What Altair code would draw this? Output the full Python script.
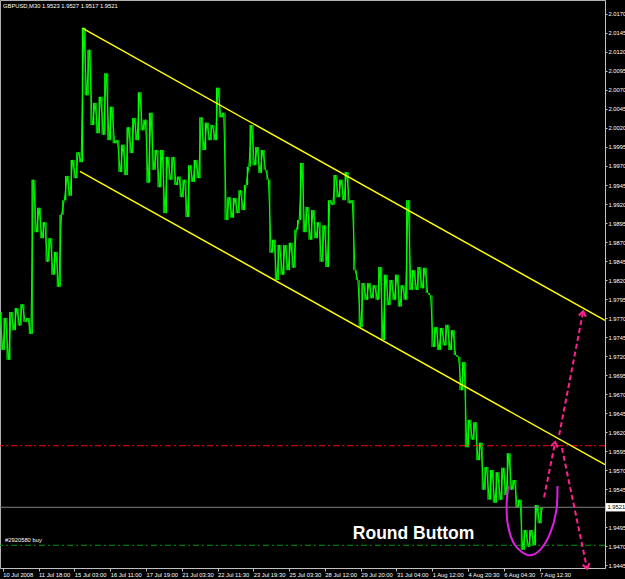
import json
import altair as alt
import pandas as pd

# ---------------- data ----------------
TITLE = "GBPUSD,M30  1.9523 1.9527 1.9517 1.9521"

x_tick_bars = [0, 64, 128, 192, 256, 320, 384, 448, 512, 576, 640, 704, 768, 832, 896, 960]
x_tick_labels = ["10 Jul 2008", "11 Jul 18:00", "15 Jul 03:00", "16 Jul 11:00",
                 "17 Jul 19:00", "21 Jul 03:30", "22 Jul 11:30", "23 Jul 19:30",
                 "25 Jul 03:30", "28 Jul 12:00", "29 Jul 20:00", "31 Jul 04:00",
                 "1 Aug 12:00", "4 Aug 20:30", "6 Aug 04:30", "7 Aug 12:30"]

y_tick_values = [1.9445, 1.9470, 1.9495, 1.9545, 1.9570, 1.9595, 1.9620, 1.9645,
                 1.9670, 1.9695, 1.9720, 1.9745, 1.9770, 1.9795, 1.9820, 1.9845,
                 1.9870, 1.9895, 1.9920, 1.9945, 1.9970, 1.9995, 2.0020, 2.0045,
                 2.0070, 2.0095, 2.0120, 2.0145, 2.0170]

first_bar = -5
bar_step = 5
prices = [
    1.9778, 1.9728, 1.9770, 1.9715, 1.9778, 1.9754, 1.9783, 1.9760, 1.9788, 1.9765,
    1.9770, 1.9749, 1.9952, 1.9883, 1.9915, 1.9875, 1.9896, 1.9844, 1.9875, 1.9827,
    1.9857, 1.9811, 1.9906, 1.9925, 1.9957, 1.9931, 1.9978, 1.9954, 1.9988, 1.9975,
    2.0152, 2.0063, 2.0123, 2.0024, 2.0053, 2.0013, 2.0061, 2.0011, 2.0092, 2.0004,
    2.0048, 2.0000, 2.0004, 1.9962, 1.9998, 1.9958, 2.0021, 1.9987, 2.0033, 2.0004,
    2.0067, 2.0017, 2.0031, 1.9948, 2.0040, 1.9965, 1.9991, 1.9942, 1.9991, 1.9908,
    1.9982, 1.9952, 1.9982, 1.9945, 1.9956, 1.9929, 1.9952, 1.9903, 1.9971, 1.9949,
    1.9978, 1.9954, 2.0034, 1.9991, 2.0027, 2.0004, 2.0024, 2.0004, 2.0073, 2.0034,
    2.0040, 1.9899, 1.9929, 1.9902, 1.9928, 1.9908, 1.9938, 1.9912, 1.9945, 1.9969,
    2.0024, 1.9971, 1.9995, 1.9961, 1.9991, 1.9965, 1.9952, 1.9856, 1.9873, 1.9820,
    1.9866, 1.9827, 1.9866, 1.9833, 1.9869, 1.9836, 1.9886, 1.9899, 1.9974, 1.9883,
    1.9916, 1.9873, 1.9912, 1.9875, 1.9896, 1.9844, 1.9892, 1.9837, 1.9925, 1.9919,
    1.9958, 1.9929, 1.9952, 1.9925, 1.9962, 1.9921, 1.9925, 1.9833, 1.9820, 1.9758,
    1.9816, 1.9794, 1.9816, 1.9796, 1.9813, 1.9794, 1.9837, 1.9741, 1.9827, 1.9787,
    1.9820, 1.9794, 1.9827, 1.9785, 1.9813, 1.9794, 1.9925, 1.9807, 1.9833, 1.9807,
    1.9837, 1.9809, 1.9836, 1.9803, 1.9800, 1.9732, 1.9758, 1.9728, 1.9757, 1.9734,
    1.9761, 1.9728, 1.9754, 1.9721, 1.9719, 1.9675, 1.9712, 1.9600, 1.9636, 1.9610,
    1.9633, 1.9583, 1.9606, 1.9544, 1.9574, 1.9531, 1.9570, 1.9527, 1.9567, 1.9531,
    1.9573, 1.9537, 1.9592, 1.9544, 1.9557, 1.9521, 1.9531, 1.9465, 1.9491, 1.9469,
    1.9491, 1.9471, 1.9524, 1.9500, 1.9521,
]

# channel lines: [bar_start, price_start, bar_end, price_end]
channel_upper = [143, 2.0151, 1077, 1.9767]
channel_lower = [138, 1.9963, 1077, 1.9577]

# horizontal levels
level_red = 1.9602
level_current = 1.9521
level_buy = 1.9471
buy_label = "#2920580 buy"

# dashed arrows: start bar, start price, end bar, end price, head angle
arrow_x1 = [968, 995, 1000]
arrow_y1 = [1.9534, 1.9616, 1.9599]
arrow_x2 = [988, 1038, 1045]
arrow_y2 = [1.9607, 1.9779, 1.9440]
arrow_angle = [11, 11, 168]

# hand-drawn "round bottom" curve
curve_bars = [904, 901, 904, 916, 940, 961, 979, 990, 992]
curve_prices = [1.9549, 1.9522, 1.9495, 1.9471, 1.9458, 1.9465, 1.9487, 1.9517, 1.9549]

note_text = "Round Buttom"
note_bar = 626
note_price = 1.9486

# ---------------- chart ----------------
XDOM = [-5, 1077]
YDOM = [1.94411, 2.01884]
FONT = "Liberation Sans"
xs = alt.Scale(domain=XDOM, nice=False, zero=False)
ys = alt.Scale(domain=YDOM, nice=False, zero=False)


def X(f, axis=None):
    return alt.X(f, type="quantitative", scale=xs, axis=axis, title=None)


def Y(f, axis=None):
    return alt.Y(f, type="quantitative", scale=ys, axis=axis, title=None)


bars = [first_bar + bar_step * i for i in range(len(prices))]
seg_df = pd.DataFrame({
    "bar": [b + bar_step / 2 for b in bars[:-1]],
    "p1": prices[:-1],
    "p2": prices[1:],
    "up": [b > a for a, b in zip(prices[:-1], prices[1:])],
})
line_df = pd.DataFrame({"bar": bars, "price": prices})

label_expr = json.dumps(x_tick_labels) + "[round(datum.value/64)]"

x_axis = alt.Axis(values=x_tick_bars, labelExpr=label_expr, orient="bottom",
                  labelAlign="left", labelBaseline="top", labelPadding=0,
                  tickSize=3, grid=False, labelOverlap=False, labelFlush=False,
                  title=None)
y_axis = alt.Axis(values=y_tick_values, format=".4f", orient="right",
                  labelAlign="left", labelBaseline="middle", labelPadding=1,
                  tickSize=2, grid=False, labelOverlap=False, labelBound=False,
                  title=None)

price_bars = alt.Chart(seg_df).mark_rule(strokeWidth=1.4).encode(
    x=X("bar", x_axis), y=Y("p1", y_axis), y2=alt.Y2("p2"),
    color=alt.Color("up:N", scale=alt.Scale(domain=[True, False],
                                            range=["#00FF00", "#00B400"]), legend=None))
price_line = alt.Chart(line_df).mark_line(color="#00FF00", strokeWidth=1).encode(
    x=X("bar"), y=Y("price"))

red_line = alt.Chart(pd.DataFrame({"p": [level_red]})).mark_rule(
    color="#FF0000", strokeWidth=1, strokeDash=[6, 3, 2, 3]).encode(y=Y("p"))
cur_line = alt.Chart(pd.DataFrame({"p": [level_current]})).mark_rule(
    color="#808080", strokeWidth=1).encode(y=Y("p"))
buy_line = alt.Chart(pd.DataFrame({"p": [level_buy]})).mark_rule(
    color="#009600", strokeWidth=1, strokeDash=[6, 3, 2, 3]).encode(y=Y("p"))

ch_df = pd.DataFrame([channel_upper, channel_lower], columns=["x1", "y1", "x2", "y2"])
channel = alt.Chart(ch_df).mark_rule(color="#FFFF00", strokeWidth=1.5).encode(
    x=X("x1"), y=Y("y1"), x2=alt.X2("x2"), y2=alt.Y2("y2"))

curve_df = pd.DataFrame({"bar": curve_bars, "price": curve_prices,
                         "o": list(range(len(curve_bars)))})
curve = alt.Chart(curve_df).mark_line(color="#E020E0", strokeWidth=2,
                                      interpolate="cardinal").encode(
    x=X("bar"), y=Y("price"), order="o:Q")

ar_df = pd.DataFrame({"x1": arrow_x1, "y1": arrow_y1, "x2": arrow_x2,
                      "y2": arrow_y2, "ang": arrow_angle})
arrows = alt.Chart(ar_df).mark_rule(color="#FF2090", strokeWidth=2,
                                    strokeDash=[5, 3]).encode(
    x=X("x1"), y=Y("y1"), x2=alt.X2("x2"), y2=alt.Y2("y2"))
heads = alt.Chart(ar_df).mark_point(shape="M -0.7 1 L 0 0 L 0.7 1", filled=False,
                                    color="#FF2090", strokeWidth=2, size=100,
                                    opacity=1).encode(
    x=X("x2"), y=Y("y2"), angle=alt.Angle("ang:Q", scale=None))

note = alt.Chart(pd.DataFrame({"b": [note_bar], "p": [note_price], "t": [note_text]})).mark_text(
    font=FONT, fontSize=17.5, fontWeight="bold", color="#FFFFFF", align="left",
    baseline="middle").encode(x=X("b"), y=Y("p"), text="t:N")

buy_txt = alt.Chart(pd.DataFrame({"b": [4], "p": [1.9478], "t": [buy_label]})).mark_text(
    font=FONT, fontSize=5.8, color="#FFFFFF", align="left", baseline="middle").encode(
    x=X("b"), y=Y("p"), text="t:N")

title_txt = alt.Chart(pd.DataFrame({"t": [TITLE]})).mark_text(
    font=FONT, fontSize=5.8, color="#FFFFFF", align="left", baseline="middle").encode(
    x=alt.value(3), y=alt.value(6), text="t:N")

box_df = pd.DataFrame({"top": [level_current + 0.00055], "bot": [level_current - 0.00055],
                       "p": [level_current], "t": ["%.4f" % level_current]})
cur_box = alt.Chart(box_df).mark_rect(color="#FFFFFF").encode(
    x=alt.value(606), x2=alt.value(625), y=Y("top"), y2=alt.Y2("bot"))
cur_txt = alt.Chart(box_df).mark_text(font=FONT, fontSize=5.8, color="#000000",
                                      align="left", baseline="middle").encode(
    x=alt.value(607.5), y=Y("p"), text="t:N")

chart = alt.layer(
    price_bars, price_line, red_line, cur_line, buy_line, channel, curve, arrows, heads,
    note, buy_txt, title_txt, cur_box, cur_txt,
).resolve_axis(
    x="independent", y="independent"
).properties(
    width=605, height=568,
    padding={"left": 0, "top": 0, "right": 20, "bottom": 11},
    autosize=alt.AutoSizeParams(type="none"),
    background="#000000",
).configure_view(
    stroke="#B0B0B0", strokeWidth=1
).configure_axis(
    labelFont=FONT, labelFontSize=5.8, labelColor="#FFFFFF",
    tickColor="#C0C0C0", domainColor="#C0C0C0", grid=False,
    labelOverlap=False,
)

chart.save("out.html", embed_options={"renderer": "svg", "actions": False})
